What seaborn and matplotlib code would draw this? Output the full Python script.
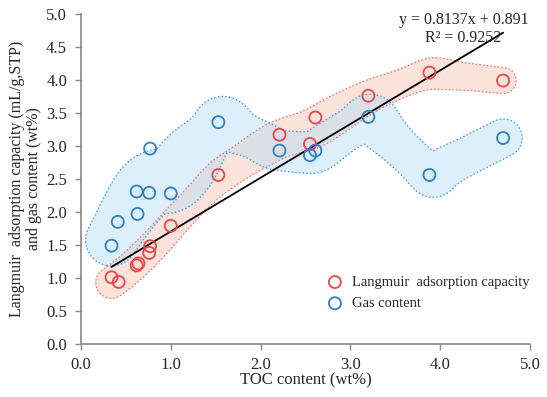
import matplotlib
matplotlib.use("Agg")
import matplotlib.pyplot as plt
import numpy as np
import pandas as pd
import seaborn as sns

sns.set_style("white")
plt.rcParams['font.family'] = ['Liberation Serif', 'DejaVu Serif']

# TOC content (wt%) of each sample
toc = [0.34, 0.42, 0.62, 0.64, 0.76, 0.77, 1.00, 1.53, 2.21, 2.55, 2.61, 3.20, 3.88, 4.70]
# Langmuir adsorption capacity (mL/g, STP)
langmuir = [1.01, 0.94, 1.19, 1.22, 1.38, 1.48, 1.79, 2.56, 3.17, 3.03, 3.43, 3.76, 4.11, 3.99]
# gas content samples (x, y)
gas_toc = [0.34, 0.41, 0.62, 0.63, 0.76, 0.77, 1.00, 1.53, 2.21, 2.55, 2.61, 3.20, 3.88, 4.70]
gas = [1.49, 1.85, 2.31, 1.97, 2.29, 2.96, 2.28, 3.36, 2.93, 2.86, 2.93, 3.44, 2.56, 3.12]

slope, intercept, r2 = 0.8137, 0.891, 0.9252

red = '#e5484c'
blue = '#2f82c2'

fig = plt.figure(figsize=(5.47, 3.97), dpi=100)
ax = fig.add_axes([0.148, 0.1335, 0.821, 0.8315])
ax.set_xlim(0, 5)
ax.set_ylim(0, 5)


def smooth_line(x, y, h, n=300):
    # local linear (loess-like) centre line and local scatter of the points
    x = np.asarray(x, float)
    y = np.asarray(y, float)
    gx = np.linspace(x.min(), x.max(), n)
    gy = np.empty_like(gx)
    sd = np.empty_like(gx)
    for i, x0 in enumerate(gx):
        w = np.exp(-0.5 * ((x - x0) / h) ** 2)
        xm = (w * x).sum() / w.sum()
        ym = (w * y).sum() / w.sum()
        b = (w * (x - xm) * (y - ym)).sum() / ((w * (x - xm) ** 2).sum() + 1e-9)
        gy[i] = ym + b * (x0 - xm)
        res = y - (ym + b * (x - xm))
        sd[i] = np.sqrt((w * res ** 2).sum() / w.sum())
    return gx, gy, sd


def band_field(ax, x, y, h, base, k):
    # distance (pixels) from grid nodes to the centre line, minus local half width
    gx, gy, sd = smooth_line(x, y, h)
    cpts = ax.transData.transform(np.column_stack([gx, gy]))
    px_per_y = ax.transData.transform((0, 1))[1] - ax.transData.transform((0, 0))[1]
    rad = base + k * sd * px_per_y
    X, Y = np.meshgrid(np.linspace(-0.2, 5.2, 300), np.linspace(-0.2, 5.2, 300))
    P = ax.transData.transform(np.column_stack([X.ravel(), Y.ravel()]))
    D = np.full(len(P), np.inf)
    for (cx, cy), r in zip(cpts, rad):
        D = np.minimum(D, np.hypot(P[:, 0] - cx, P[:, 1] - cy) - r)
    return X, Y, D.reshape(X.shape)


def draw_band(ax, x, y, h, base, k, fill, edge, alpha):
    X, Y, D = band_field(ax, x, y, h, base, k)
    ax.contourf(X, Y, D, levels=[-1e4, 0], colors=[fill], alpha=alpha, zorder=1)
    ax.contour(X, Y, D, levels=[0], colors=[edge], linestyles=':', linewidths=1.0, zorder=2)


# highlighted envelopes
draw_band(ax, toc, langmuir, 0.3, 13, 0.6, '#f9c6b8', '#e07a78', 0.5)
draw_band(ax, gas_toc, gas, 0.22, 19, 0.6, '#b5dcf4', '#4f9ccc', 0.45)

# regression line
fit_x = np.array([min(toc), max(toc)])
fit = pd.DataFrame({'x': fit_x, 'y': slope * fit_x + intercept})
sns.lineplot(data=fit, x='x', y='y', color='black', lw=1.3, ax=ax, zorder=3)

df_l = pd.DataFrame({'toc': toc, 'val': langmuir})
df_g = pd.DataFrame({'toc': gas_toc, 'val': gas})
sns.scatterplot(data=df_l, x='toc', y='val', s=75, facecolor='none', edgecolor=red,
                linewidth=1.3, ax=ax, zorder=4, label='Langmuir  adsorption capacity')
sns.scatterplot(data=df_g, x='toc', y='val', s=75, facecolor='none', edgecolor=blue,
                linewidth=1.3, ax=ax, zorder=4, label='Gas content')

ax.legend(loc='lower left', bbox_to_anchor=(0.52, 0.085), frameon=False, fontsize=10.5,
          handletextpad=0.15, labelspacing=0.55, borderaxespad=0)

ax.text(4.26, 5.03, f'y = {slope}x + {intercept}\nR² = {r2}',
        ha='center', va='top', fontsize=11.5, linespacing=1.15, multialignment='center')

ax.set_xlim(0, 5)
ax.set_ylim(0, 5)
ax.set_xticks(np.arange(0, 5.01, 1.0))
ax.set_yticks(np.arange(0, 5.01, 0.5))
ax.set_xticklabels([f'{v:.1f}' for v in np.arange(0, 5.01, 1.0)])
ax.set_yticklabels([f'{v:.1f}' for v in np.arange(0, 5.01, 0.5)])
ax.tick_params(axis='both', direction='out', length=4, width=1, color='#888888',
               labelsize=12, bottom=True, left=True)
ax.tick_params(axis='y', pad=6)
ax.tick_params(axis='x', pad=5)
for s in ['top', 'right']:
    ax.spines[s].set_visible(False)
for s in ['left', 'bottom']:
    ax.spines[s].set_color('#888888')
    ax.spines[s].set_linewidth(1.2)

ax.set_xlabel('TOC content (wt%)', fontsize=12, labelpad=0)
ax.set_ylabel('Langmuir  adsorption capacity (mL/g,STP)\nand gas content (wt%)',
              fontsize=11.5, labelpad=3, linespacing=1.05)

fig.savefig('out.png', dpi=100)
